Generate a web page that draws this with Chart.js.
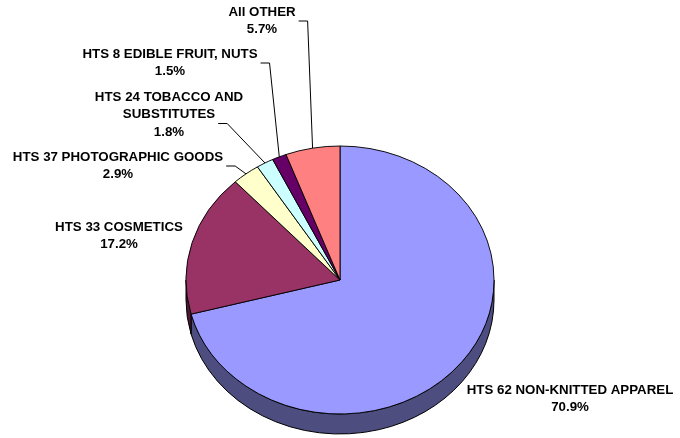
<!DOCTYPE html>
<html>
<head>
<meta charset="utf-8">
<script src="https://cdn.jsdelivr.net/npm/chart.js"></script>
<style>
  html, body { margin: 0; padding: 0; background: #fff; }
  #wrap { width: 680px; height: 438px; }
</style>
</head>
<body>
<div id="wrap"><canvas id="pieChart"></canvas></div>
<script>
// chart data
const categories = ['HTS 62 NON-KNITTED APPAREL', 'HTS 33 COSMETICS', 'HTS 37 PHOTOGRAPHIC GOODS',
                    'HTS 24 TOBACCO AND SUBSTITUTES', 'HTS 8 EDIBLE FRUIT, NUTS', 'All OTHER'];
const shares = [70.9, 17.2, 2.9, 1.8, 1.5, 5.7];
// how each label is broken into lines
const labelLines = [
    ['HTS 62 NON-KNITTED APPAREL'],
    ['HTS 33 COSMETICS'],
    ['HTS 37 PHOTOGRAPHIC GOODS'],
    ['HTS 24 TOBACCO AND', 'SUBSTITUTES'],
    ['HTS 8 EDIBLE FRUIT, NUTS'],
    ['All OTHER']
];

// styling / layout
const topColors = ['#9999FF', '#993366', '#FFFFCC', '#CCFFFF', '#660066', '#FF8080'];
const sideColors = ['#4D4D80', '#4D1A33', '#80806A', '#6A8080', '#330033', '#804040'];
const squash = 134 / 154;   // tilt of the pie (vertical / horizontal radius)
const depth = 20;           // thickness of the pie in px
// label centre x, first line y, and whether a leader line is drawn
const labelPos = [
    { x: 570, y: 390, leader: false },
    { x: 119, y: 227, leader: false },
    { x: 118, y: 157, leader: true },
    { x: 169, y: 97, leader: true },
    { x: 170, y: 54, leader: true },
    { x: 262, y: 12, leader: true }
];

const tiltPlugin = {
    id: 'tilt',
    beforeDatasetsDraw(chart) {
        const ctx = chart.ctx;
        const arcs = chart.getDatasetMeta(0).data;
        const cx = arcs[0].x, cy = arcs[0].y;
        const R = arcs[0].outerRadius;
        const ry = R * squash;

        // side wall, only the front half (0..PI) is visible
        ctx.save();
        ctx.lineWidth = 1;
        ctx.strokeStyle = '#000';
        arcs.forEach((arc, i) => {
            const s = Math.max(arc.startAngle, 0);
            const e = Math.min(arc.endAngle, Math.PI);
            if (e <= s) return;
            ctx.beginPath();
            ctx.ellipse(cx, cy, R, ry, 0, s, e, false);
            ctx.ellipse(cx, cy + depth, R, ry, 0, e, s, true);
            ctx.closePath();
            ctx.fillStyle = sideColors[i];
            ctx.fill();
            ctx.stroke();
        });
        ctx.restore();

        // squash the top face into an ellipse
        ctx.save();
        ctx.translate(cx, cy);
        ctx.scale(1, squash);
        ctx.translate(-cx, -cy);
    },
    afterDatasetsDraw(chart) {
        const ctx = chart.ctx;
        ctx.restore();

        const arcs = chart.getDatasetMeta(0).data;
        const cx = arcs[0].x, cy = arcs[0].y;
        const R = arcs[0].outerRadius;
        const ry = R * squash;

        ctx.save();
        ctx.font = 'bold 13.3px "Liberation Sans", Arial, sans-serif';
        ctx.fillStyle = '#000';
        ctx.textAlign = 'center';
        ctx.textBaseline = 'middle';
        const lineH = 17.5;
        labelLines.forEach((lines, i) => {
            const p = labelPos[i];
            const all = lines.concat([shares[i].toFixed(1) + '%']);
            all.forEach((t, j) => ctx.fillText(t, p.x, p.y + j * lineH));
            if (!p.leader) return;
            // leader line from the line before the percentage to the slice edge
            const row = lines.length - 1;
            const w = ctx.measureText(lines[row]).width;
            const x0 = p.x + w / 2 + 3;
            const y0 = p.y + row * lineH + 9;
            const mid = (arcs[i].startAngle + arcs[i].endAngle) / 2;
            const ex = cx + R * Math.cos(mid);
            const ey = cy + ry * Math.sin(mid);
            ctx.beginPath();
            ctx.moveTo(x0, y0);
            ctx.lineTo(x0 + 9, y0);
            ctx.lineTo(ex, ey);
            ctx.lineWidth = 1;
            ctx.strokeStyle = '#000';
            ctx.stroke();
        });
        ctx.restore();
    }
};

new Chart(document.getElementById('pieChart').getContext('2d'), {
    type: 'pie',
    data: {
        labels: categories,
        datasets: [{
            data: shares,
            backgroundColor: topColors,
            borderColor: '#000',
            borderWidth: 1,
            radius: 154
        }]
    },
    options: {
        responsive: true,
        maintainAspectRatio: false,
        animation: false,
        layout: {
            padding: { left: 186, right: 186, top: 126, bottom: 4 }
        },
        plugins: {
            legend: { display: false },
            tooltip: { enabled: false }
        }
    },
    plugins: [tiltPlugin]
});
</script>
</body>
</html>
